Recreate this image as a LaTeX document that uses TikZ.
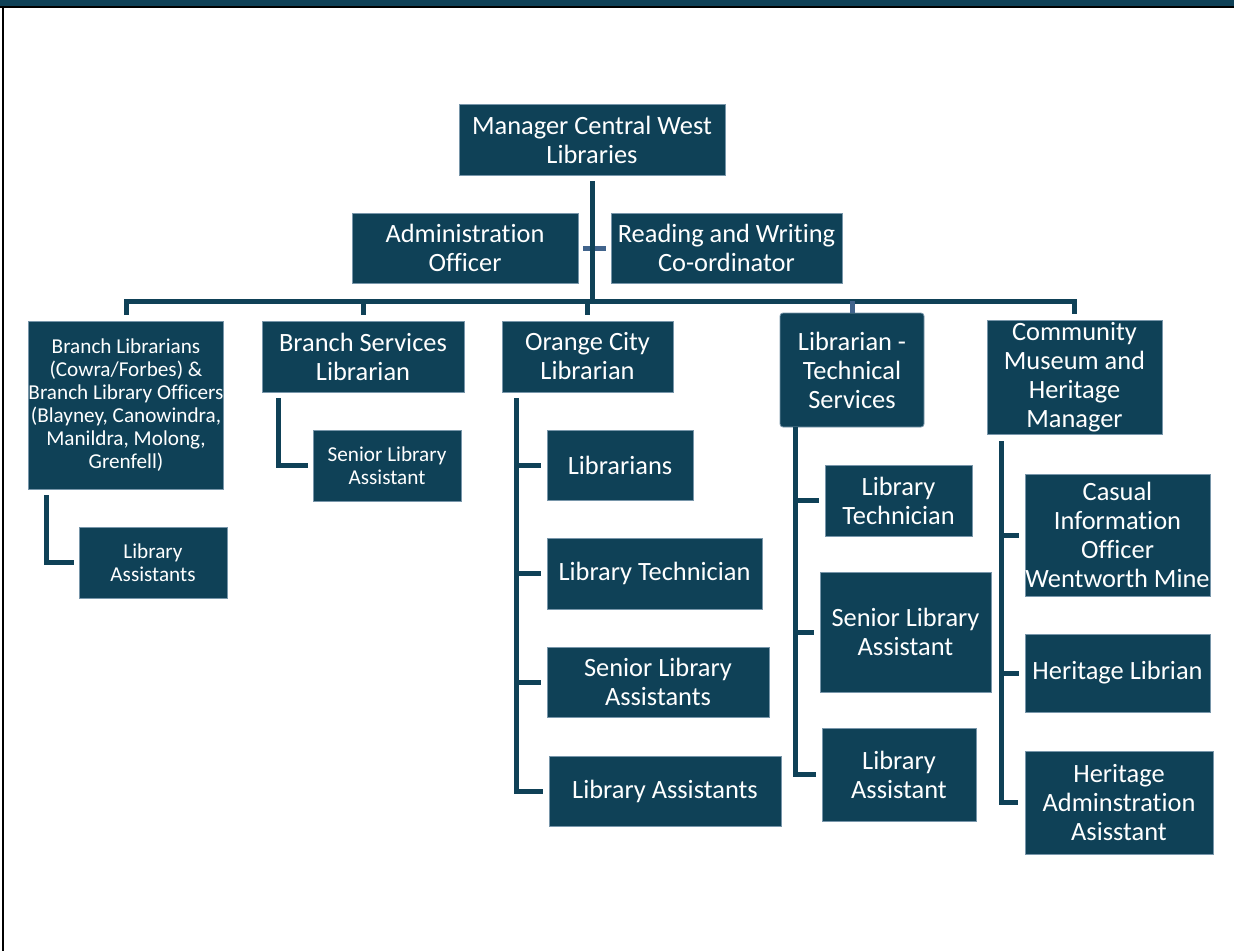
\documentclass[tikz,border=0pt]{standalone}
\usepackage{fontspec}
\setmainfont{Carlito}[Ligatures=NoCommon]
\definecolor{tealc}{RGB}{15,65,87}
\definecolor{edgec}{RGB}{120,150,170}
\definecolor{lightc}{RGB}{65,100,140}
\tikzset{
  box/.style={fill=tealc, draw=edgec, line width=0.8pt, text=white, align=center,
    inner sep=0pt, font=\fontsize{26.4}{29}\selectfont},
  smallbox/.style={box, font=\fontsize{21.2}{23}\selectfont},
  conn/.style={draw=tealc, line width=5pt},
  connlight/.style={draw=lightc, line width=5pt},
}
\begin{document}
\begin{tikzpicture}[x=1pt,y=-1pt]
\useasboundingbox (0,0) rectangle (1234,951);
% frame
\fill[tealc] (0,0) rectangle (1234,5.7);
\fill[black] (0,5.7) rectangle (1234,7.7);
\fill[black] (2,7.7) rectangle (4,951);

% nodes
\node[box, minimum width=266pt, minimum height=71pt] (mgr) at (592,139.5) {Manager Central West\\Libraries};
\node[box, minimum width=226pt, minimum height=70pt] (admin) at (465,248) {Administration\\Officer};
\node[box, minimum width=231pt, minimum height=70pt] (rw) at (726.5,248) {Reading and Writing\\Co-ordinator};
\node[smallbox, minimum width=194pt, minimum height=168pt] (bl) at (126,405) {Branch Librarians\\(Cowra/Forbes) \&\\Branch Library Officers\\(Blayney, Canowindra,\\Manildra, Molong,\\Grenfell)};
\node[box, minimum width=202pt, minimum height=71pt] (bs) at (363,356.5) {Branch Services\\Librarian};
\node[smallbox, minimum width=148pt, minimum height=71pt] (bssla) at (387,465.5) {Senior Library\\Assistant};
\node[smallbox, minimum width=148pt, minimum height=71pt] (bla) at (153,562.5) {Library\\Assistants};
\node[box, minimum width=171pt, minimum height=71pt] (oc) at (587.5,356.5) {Orange City\\Librarian};
\node[box, minimum width=146pt, minimum height=70pt] (ocl) at (620,465) {Librarians};
\node[box, minimum width=215pt, minimum height=71pt] (oct) at (654.5,573.5) {Library Technician};
\node[box, minimum width=222pt, minimum height=70pt] (ocs) at (658,682) {Senior Library\\Assistants};
\node[box, minimum width=232pt, minimum height=70pt] (oca) at (665,791) {Library Assistants};
\node[box, rounded corners=3pt, minimum width=144pt, minimum height=114pt] (lt) at (852,370) {Librarian -\\Technical\\Services};
\node[box, minimum width=147pt, minimum height=71pt] (ltt) at (898.5,500.5) {Library\\Technician};
\node[box, minimum width=171pt, minimum height=120pt] (lts) at (905.5,632) {Senior Library\\Assistant};
\node[box, minimum width=154pt, minimum height=93pt] (lta) at (899,774.5) {Library\\Assistant};
\node[box, minimum width=175pt, minimum height=114pt] (cm) at (1074.5,377) {Community\\Museum and\\Heritage\\Manager};
\node[box, minimum width=185pt, minimum height=122pt] (cio) at (1117.5,535) {Casual\\Information\\Officer\\Wentworth Mine};
\node[box, minimum width=185pt, minimum height=78pt] (hl) at (1117.5,673) {Heritage Librian};
\node[box, minimum width=188pt, minimum height=103pt] (ha) at (1119,802.5) {Heritage\\Adminstration\\Asisstant};

% top connectors
\draw[connlight] ([xshift=5pt]admin.east) -- ([xshift=-5pt]rw.west);
\coordinate (bus) at (592,301);
\draw[conn] ([yshift=-6pt]mgr.south) -- (mgr.south |- bus);
\draw[conn] ([yshift=6pt]bl.north) |- (bus -| cm.north) -- ([yshift=6pt]cm.north);
\draw[conn] ([yshift=6pt]bs.north) -- (bs.north |- bus);
\draw[conn] ([yshift=6pt]oc.north) -- (oc.north |- bus);
\draw[connlight] (lt.north) -- (lt.north |- bus);

% sub connectors
\draw[conn] ([xshift=18pt,yshift=-6pt]bl.south west) |- ([xshift=-5pt]bla.west);
\draw[conn] ([xshift=17pt,yshift=-6pt]bs.south west) |- ([xshift=-5pt]bssla.west);

\coordinate (ocsp) at ([xshift=15pt,yshift=-6pt]oc.south west);
\draw[conn] (ocsp) |- ([xshift=-6pt]oca.west);
\foreach \n in {ocl,oct,ocs} \draw[conn] (ocsp |- \n.west) -- ([xshift=-6pt]\n.west);

\coordinate (ltsp) at ([xshift=16pt]lt.south west);
\draw[conn] (ltsp) |- ([xshift=-6pt]lta.west);
\foreach \n in {ltt,lts} \draw[conn] (ltsp |- \n.west) -- ([xshift=-6pt]\n.west);

\coordinate (cmsp) at ([xshift=15pt,yshift=-7pt]cm.south west);
\draw[conn] (cmsp) |- ([xshift=-7pt]ha.west);
\foreach \n in {cio,hl} \draw[conn] (cmsp |- \n.west) -- ([xshift=-6pt]\n.west);
\end{tikzpicture}
\end{document}
